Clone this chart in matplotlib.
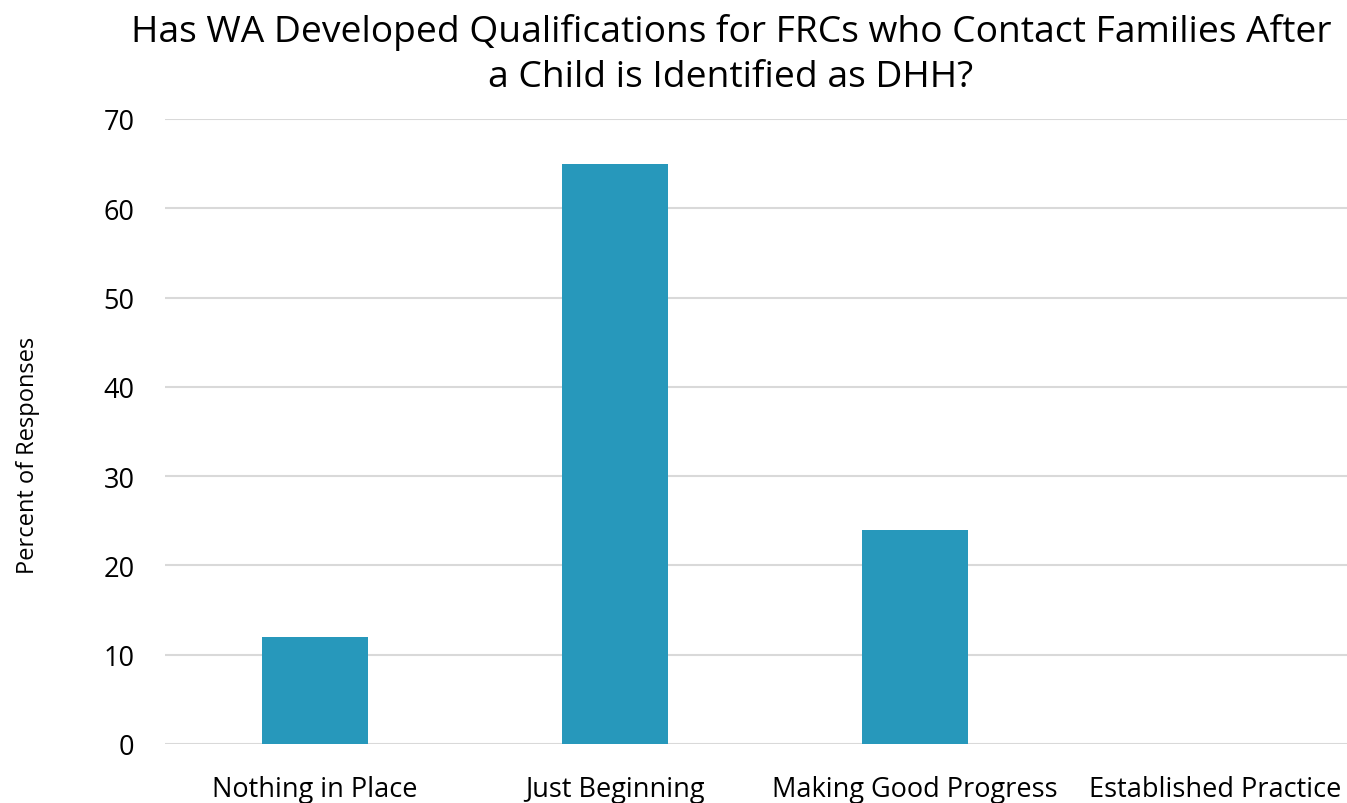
import matplotlib.pyplot as plt

categories = ["Nothing in Place", "Just Beginning", "Making Good Progress", "Established Practice"]
values = [12, 65, 24, 0]
yticks = [0, 10, 20, 30, 40, 50, 60, 70]

plt.rcParams['font.family'] = ['Open Sans', 'DejaVu Sans']

fig = plt.figure(figsize=(13.47, 8.04), dpi=100)
ax = fig.add_axes([165 / 1347, 59 / 804, 1200 / 1347, 625 / 804])

x = range(len(categories))
ax.bar(x, values, width=0.355, color="#2798BB", zorder=3)

ax.set_xlim(-0.5, len(categories) - 0.5)
ax.set_ylim(0, 70)
ax.set_yticks(yticks)
ax.set_xticks(list(x))
ax.set_xticklabels(categories)
ax.grid(axis="y", color="#D9D9D9", linewidth=1.5, zorder=0)
for s in ax.spines.values():
    s.set_visible(False)
ax.tick_params(axis="both", length=0, labelsize=19.5, colors="black")
ax.tick_params(axis="x", pad=22)
ax.tick_params(axis="y", pad=22)

fig.text(28 / 1347, 1 - 455 / 804, "Percent of Responses", rotation=90,
         ha="center", va="center", fontsize=17)
fig.text(731 / 1347, 1 - 55 / 804,
         "Has WA Developed Qualifications for FRCs who Contact Families After\na Child is Identified as DHH?",
         ha="center", va="center", fontsize=26.8, linespacing=1.35)

fig.savefig("out.png", dpi=100)
